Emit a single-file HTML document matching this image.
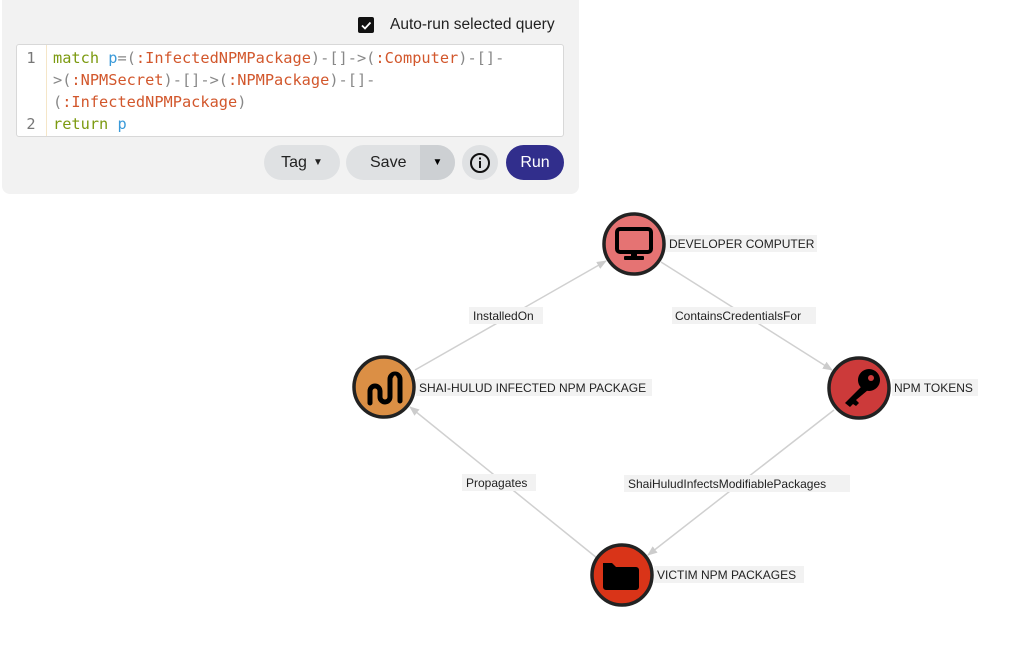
<!DOCTYPE html>
<html><head><style>
body{margin:0;width:1023px;height:650px;background:#fff;font-family:"Liberation Sans",sans-serif;position:relative;overflow:hidden}
.panel{position:absolute;left:2px;top:-8px;width:577px;height:202px;background:#f2f2f2;border-radius:8px}
.cb{position:absolute;left:358px;top:17px;width:16px;height:16px;background:#111;border-radius:2px}
.editor{position:absolute;left:16px;top:44px;width:546px;height:91px;background:#fff;border:1px solid #d8d8d8;border-radius:3px;font-family:"DejaVu Sans Mono","Liberation Mono",monospace;font-size:15.3px}
.ln{position:absolute;left:0;width:28px;text-align:center;color:#777}
.code{position:absolute;left:36px;white-space:pre;color:#888}
.gut{position:absolute;left:29px;top:0;bottom:0;border-left:1px solid #f5e6c8}
.k{color:#7c9a10}.v{color:#3a9ad9}.l{color:#d2572c}
.btn{position:absolute;top:145px;height:35px;background:#dfe1e3;border-radius:18px;font-size:16px;color:#222;display:flex;align-items:center;justify-content:center}
.lbl{font-size:12px;fill:#222;font-family:"Liberation Sans",sans-serif}
</style></head><body>
<div class="panel"></div>
<div class="cb"><svg width="16" height="16"><path d="M4 8.5l3 3 5.5-6" stroke="#fff" stroke-width="1.8" fill="none"/></svg></div>
<div style="position:absolute;left:390px;top:16px;font-size:15.5px;color:#222">Auto-run selected query</div>
<div class="editor"><div class="gut"></div>
<div class="ln" style="top:4px">1</div><div class="ln" style="top:70px">2</div>
<div class="code" style="top:4px"><span class="k">match</span> <span class="v">p</span>=(<span class="l">:InfectedNPMPackage</span>)-[]-&gt;(<span class="l">:Computer</span>)-[]-</div>
<div class="code" style="top:26px">&gt;(<span class="l">:NPMSecret</span>)-[]-&gt;(<span class="l">:NPMPackage</span>)-[]-</div>
<div class="code" style="top:48px">(<span class="l">:InfectedNPMPackage</span>)</div>
<div class="code" style="top:70px"><span class="k">return</span> <span class="v">p</span></div>
</div>
<div class="btn" style="left:264px;width:76px">Tag <span style="font-size:10px;margin-left:6px">▼</span></div>
<div class="btn" style="left:346px;width:109px;justify-content:flex-start;padding-left:24px;box-sizing:border-box">Save</div>
<div style="position:absolute;left:420px;top:145px;width:35px;height:35px;background:#cdd0d3;border-radius:0 18px 18px 0;font-size:10px;display:flex;align-items:center;justify-content:center">▼</div>
<div class="btn" style="left:462px;width:36px"><svg width="22" height="22"><circle cx="11" cy="11" r="9" fill="none" stroke="#111" stroke-width="2"/><rect x="10" y="9" width="2" height="7" fill="#111"/><rect x="10" y="5.5" width="2" height="2" fill="#111"/></svg></div>
<div class="btn" style="left:506px;width:58px;background:#312e8c;color:#fff">Run</div>
<svg style="position:absolute;left:0;top:0" width="1023" height="650">
<defs><marker id="a" markerWidth="10" markerHeight="10" refX="9" refY="5" orient="auto" markerUnits="userSpaceOnUse"><path d="M0 1L10 5L0 9z" fill="#ccc"/></marker></defs>
<g stroke="#d0d0d0" stroke-width="1.5" fill="none">
<line x1="415" y1="370" x2="606" y2="261" marker-end="url(#a)"/>
<line x1="661" y1="262" x2="832" y2="370" marker-end="url(#a)"/>
<line x1="834" y1="410" x2="648" y2="555" marker-end="url(#a)"/>
<line x1="597" y1="558" x2="410" y2="407" marker-end="url(#a)"/>
</g>
<g fill="#f2f2f2">
<rect x="469" y="307" width="74" height="17"/><rect x="672" y="307" width="144" height="17"/>
<rect x="624" y="475" width="226" height="17"/><rect x="462" y="474" width="74" height="17"/>
<rect x="665" y="235" width="152" height="17"/><rect x="416" y="379" width="236" height="17"/>
<rect x="892" y="379" width="86" height="17"/><rect x="654" y="566" width="150" height="17"/>
</g>
<text class="lbl" x="473" y="320">InstalledOn</text>
<text class="lbl" x="675" y="320">ContainsCredentialsFor</text>
<text class="lbl" x="628" y="488">ShaiHuludInfectsModifiablePackages</text>
<text class="lbl" x="466" y="487">Propagates</text>
<text class="lbl" x="669" y="248">DEVELOPER COMPUTER</text>
<text class="lbl" x="419" y="392">SHAI-HULUD INFECTED NPM PACKAGE</text>
<text class="lbl" x="894" y="392">NPM TOKENS</text>
<text class="lbl" x="657" y="579">VICTIM NPM PACKAGES</text>
<g stroke="#222" stroke-width="3.5">
<circle cx="634" cy="244" r="30" fill="#e57373"/>
<circle cx="384" cy="387" r="30" fill="#db8f45"/>
<circle cx="859" cy="388" r="30" fill="#cc3a3a"/>
<circle cx="622" cy="575" r="30" fill="#d93418"/>
</g>
<rect x="617" y="229" width="34" height="23" rx="3" fill="none" stroke="#000" stroke-width="4"/>
<rect x="631" y="252" width="6" height="5" fill="#000"/><rect x="624" y="256" width="20" height="4" rx="1" fill="#000"/>
<path d="M370 403 v-12 a5 5 0 0 1 10 0 v6 a5 5 0 0 0 10 0 v-18 a5 5 0 0 1 10 0 v22" fill="none" stroke="#000" stroke-width="5" stroke-linecap="round"/>
<circle cx="395" cy="377" r="1.5" fill="#db8f45"/>
<circle cx="869" cy="380" r="11" fill="#000"/><circle cx="871" cy="378" r="3" fill="#cc3a3a"/>
<path d="M862 386 L845 403 L850 407 L853 404 L856 406 L859 403 L856 400 L868 390z" fill="#000"/>
<path d="M603 563 h9 l4 4 h20 a3 3 0 0 1 3 3 v17 a3 3 0 0 1 -3 3 h-30 a3 3 0 0 1 -3 -3z" fill="#000"/>
</svg>
</body></html>
